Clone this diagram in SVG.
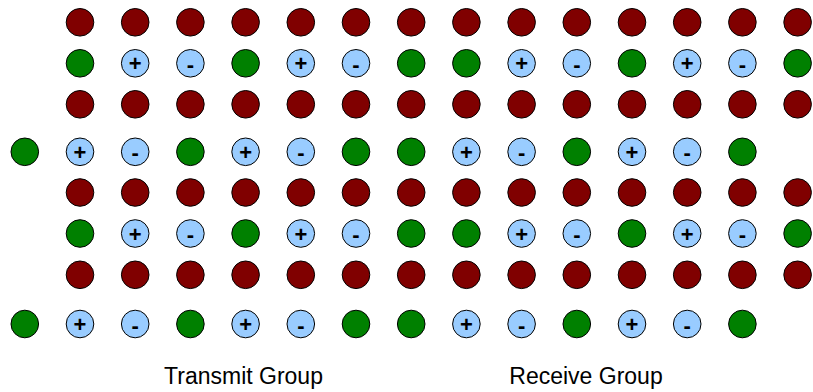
<svg xmlns="http://www.w3.org/2000/svg" width="813" height="392" viewBox="0 0 813 392">
<style>
circle{stroke:#000;stroke-width:1}
.r circle{fill:#800000}
.g circle{fill:#008000}
.p circle,.m circle{fill:#99ccff}
.p text,.m text{font-family:"Liberation Sans",Arial,sans-serif;font-size:22px;font-weight:bold;text-anchor:middle;fill:#000}
.lbl{font-family:"Liberation Sans",Arial,sans-serif;font-size:23px;fill:#000;text-anchor:middle}
</style>
<rect width="813" height="392" fill="#fff"/>
<g id="connectors"/>
<!-- Row 1 -->
<g id="n1-1" class="r" transform="translate(80,22.3)"><circle r="13.8"/></g>
<g id="n1-2" class="r" transform="translate(135.2,22.3)"><circle r="13.8"/></g>
<g id="n1-3" class="r" transform="translate(190.4,22.3)"><circle r="13.8"/></g>
<g id="n1-4" class="r" transform="translate(245.6,22.3)"><circle r="13.8"/></g>
<g id="n1-5" class="r" transform="translate(300.8,22.3)"><circle r="13.8"/></g>
<g id="n1-6" class="r" transform="translate(356,22.3)"><circle r="13.8"/></g>
<g id="n1-7" class="r" transform="translate(411.2,22.3)"><circle r="13.8"/></g>
<g id="n1-8" class="r" transform="translate(466.4,22.3)"><circle r="13.8"/></g>
<g id="n1-9" class="r" transform="translate(521.6,22.3)"><circle r="13.8"/></g>
<g id="n1-10" class="r" transform="translate(576.8,22.3)"><circle r="13.8"/></g>
<g id="n1-11" class="r" transform="translate(632,22.3)"><circle r="13.8"/></g>
<g id="n1-12" class="r" transform="translate(687.2,22.3)"><circle r="13.8"/></g>
<g id="n1-13" class="r" transform="translate(742.4,22.3)"><circle r="13.8"/></g>
<g id="n1-14" class="r" transform="translate(797.6,22.3)"><circle r="13.8"/></g>
<!-- Row 2 -->
<g id="n2-1" class="g" transform="translate(80,63.3)"><circle r="13.8"/></g>
<g id="n2-2" class="p" transform="translate(135.2,63.3)"><circle r="13.8"/><text y="8">+</text></g>
<g id="n2-3" class="m" transform="translate(190.4,63.3)"><circle r="13.8"/><text y="8.5">-</text></g>
<g id="n2-4" class="g" transform="translate(245.6,63.3)"><circle r="13.8"/></g>
<g id="n2-5" class="p" transform="translate(300.8,63.3)"><circle r="13.8"/><text y="8">+</text></g>
<g id="n2-6" class="m" transform="translate(356,63.3)"><circle r="13.8"/><text y="8.5">-</text></g>
<g id="n2-7" class="g" transform="translate(411.2,63.3)"><circle r="13.8"/></g>
<g id="n2-8" class="g" transform="translate(466.4,63.3)"><circle r="13.8"/></g>
<g id="n2-9" class="p" transform="translate(521.6,63.3)"><circle r="13.8"/><text y="8">+</text></g>
<g id="n2-10" class="m" transform="translate(576.8,63.3)"><circle r="13.8"/><text y="8.5">-</text></g>
<g id="n2-11" class="g" transform="translate(632,63.3)"><circle r="13.8"/></g>
<g id="n2-12" class="p" transform="translate(687.2,63.3)"><circle r="13.8"/><text y="8">+</text></g>
<g id="n2-13" class="m" transform="translate(742.4,63.3)"><circle r="13.8"/><text y="8.5">-</text></g>
<g id="n2-14" class="g" transform="translate(797.6,63.3)"><circle r="13.8"/></g>
<!-- Row 3 -->
<g id="n3-1" class="r" transform="translate(80,104.3)"><circle r="13.8"/></g>
<g id="n3-2" class="r" transform="translate(135.2,104.3)"><circle r="13.8"/></g>
<g id="n3-3" class="r" transform="translate(190.4,104.3)"><circle r="13.8"/></g>
<g id="n3-4" class="r" transform="translate(245.6,104.3)"><circle r="13.8"/></g>
<g id="n3-5" class="r" transform="translate(300.8,104.3)"><circle r="13.8"/></g>
<g id="n3-6" class="r" transform="translate(356,104.3)"><circle r="13.8"/></g>
<g id="n3-7" class="r" transform="translate(411.2,104.3)"><circle r="13.8"/></g>
<g id="n3-8" class="r" transform="translate(466.4,104.3)"><circle r="13.8"/></g>
<g id="n3-9" class="r" transform="translate(521.6,104.3)"><circle r="13.8"/></g>
<g id="n3-10" class="r" transform="translate(576.8,104.3)"><circle r="13.8"/></g>
<g id="n3-11" class="r" transform="translate(632,104.3)"><circle r="13.8"/></g>
<g id="n3-12" class="r" transform="translate(687.2,104.3)"><circle r="13.8"/></g>
<g id="n3-13" class="r" transform="translate(742.4,104.3)"><circle r="13.8"/></g>
<g id="n3-14" class="r" transform="translate(797.6,104.3)"><circle r="13.8"/></g>
<!-- Row 4 -->
<g id="n4-0" class="g" transform="translate(24.8,151.8)"><circle r="13.8"/></g>
<g id="n4-1" class="p" transform="translate(80,151.8)"><circle r="13.8"/><text y="8">+</text></g>
<g id="n4-2" class="m" transform="translate(135.2,151.8)"><circle r="13.8"/><text y="8.5">-</text></g>
<g id="n4-3" class="g" transform="translate(190.4,151.8)"><circle r="13.8"/></g>
<g id="n4-4" class="p" transform="translate(245.6,151.8)"><circle r="13.8"/><text y="8">+</text></g>
<g id="n4-5" class="m" transform="translate(300.8,151.8)"><circle r="13.8"/><text y="8.5">-</text></g>
<g id="n4-6" class="g" transform="translate(356,151.8)"><circle r="13.8"/></g>
<g id="n4-7" class="g" transform="translate(411.2,151.8)"><circle r="13.8"/></g>
<g id="n4-8" class="p" transform="translate(466.4,151.8)"><circle r="13.8"/><text y="8">+</text></g>
<g id="n4-9" class="m" transform="translate(521.6,151.8)"><circle r="13.8"/><text y="8.5">-</text></g>
<g id="n4-10" class="g" transform="translate(576.8,151.8)"><circle r="13.8"/></g>
<g id="n4-11" class="p" transform="translate(632,151.8)"><circle r="13.8"/><text y="8">+</text></g>
<g id="n4-12" class="m" transform="translate(687.2,151.8)"><circle r="13.8"/><text y="8.5">-</text></g>
<g id="n4-13" class="g" transform="translate(742.4,151.8)"><circle r="13.8"/></g>
<!-- Row 5 -->
<g id="n5-1" class="r" transform="translate(80,192.5)"><circle r="13.8"/></g>
<g id="n5-2" class="r" transform="translate(135.2,192.5)"><circle r="13.8"/></g>
<g id="n5-3" class="r" transform="translate(190.4,192.5)"><circle r="13.8"/></g>
<g id="n5-4" class="r" transform="translate(245.6,192.5)"><circle r="13.8"/></g>
<g id="n5-5" class="r" transform="translate(300.8,192.5)"><circle r="13.8"/></g>
<g id="n5-6" class="r" transform="translate(356,192.5)"><circle r="13.8"/></g>
<g id="n5-7" class="r" transform="translate(411.2,192.5)"><circle r="13.8"/></g>
<g id="n5-8" class="r" transform="translate(466.4,192.5)"><circle r="13.8"/></g>
<g id="n5-9" class="r" transform="translate(521.6,192.5)"><circle r="13.8"/></g>
<g id="n5-10" class="r" transform="translate(576.8,192.5)"><circle r="13.8"/></g>
<g id="n5-11" class="r" transform="translate(632,192.5)"><circle r="13.8"/></g>
<g id="n5-12" class="r" transform="translate(687.2,192.5)"><circle r="13.8"/></g>
<g id="n5-13" class="r" transform="translate(742.4,192.5)"><circle r="13.8"/></g>
<g id="n5-14" class="r" transform="translate(797.6,192.5)"><circle r="13.8"/></g>
<!-- Row 6 -->
<g id="n6-1" class="g" transform="translate(80,233.5)"><circle r="13.8"/></g>
<g id="n6-2" class="p" transform="translate(135.2,233.5)"><circle r="13.8"/><text y="8">+</text></g>
<g id="n6-3" class="m" transform="translate(190.4,233.5)"><circle r="13.8"/><text y="8.5">-</text></g>
<g id="n6-4" class="g" transform="translate(245.6,233.5)"><circle r="13.8"/></g>
<g id="n6-5" class="p" transform="translate(300.8,233.5)"><circle r="13.8"/><text y="8">+</text></g>
<g id="n6-6" class="m" transform="translate(356,233.5)"><circle r="13.8"/><text y="8.5">-</text></g>
<g id="n6-7" class="g" transform="translate(411.2,233.5)"><circle r="13.8"/></g>
<g id="n6-8" class="g" transform="translate(466.4,233.5)"><circle r="13.8"/></g>
<g id="n6-9" class="p" transform="translate(521.6,233.5)"><circle r="13.8"/><text y="8">+</text></g>
<g id="n6-10" class="m" transform="translate(576.8,233.5)"><circle r="13.8"/><text y="8.5">-</text></g>
<g id="n6-11" class="g" transform="translate(632,233.5)"><circle r="13.8"/></g>
<g id="n6-12" class="p" transform="translate(687.2,233.5)"><circle r="13.8"/><text y="8">+</text></g>
<g id="n6-13" class="m" transform="translate(742.4,233.5)"><circle r="13.8"/><text y="8.5">-</text></g>
<g id="n6-14" class="g" transform="translate(797.6,233.5)"><circle r="13.8"/></g>
<!-- Row 7 -->
<g id="n7-1" class="r" transform="translate(80,274.8)"><circle r="13.8"/></g>
<g id="n7-2" class="r" transform="translate(135.2,274.8)"><circle r="13.8"/></g>
<g id="n7-3" class="r" transform="translate(190.4,274.8)"><circle r="13.8"/></g>
<g id="n7-4" class="r" transform="translate(245.6,274.8)"><circle r="13.8"/></g>
<g id="n7-5" class="r" transform="translate(300.8,274.8)"><circle r="13.8"/></g>
<g id="n7-6" class="r" transform="translate(356,274.8)"><circle r="13.8"/></g>
<g id="n7-7" class="r" transform="translate(411.2,274.8)"><circle r="13.8"/></g>
<g id="n7-8" class="r" transform="translate(466.4,274.8)"><circle r="13.8"/></g>
<g id="n7-9" class="r" transform="translate(521.6,274.8)"><circle r="13.8"/></g>
<g id="n7-10" class="r" transform="translate(576.8,274.8)"><circle r="13.8"/></g>
<g id="n7-11" class="r" transform="translate(632,274.8)"><circle r="13.8"/></g>
<g id="n7-12" class="r" transform="translate(687.2,274.8)"><circle r="13.8"/></g>
<g id="n7-13" class="r" transform="translate(742.4,274.8)"><circle r="13.8"/></g>
<g id="n7-14" class="r" transform="translate(797.6,274.8)"><circle r="13.8"/></g>
<!-- Row 8 -->
<g id="n8-0" class="g" transform="translate(24.8,324)"><circle r="13.8"/></g>
<g id="n8-1" class="p" transform="translate(80,324)"><circle r="13.8"/><text y="8">+</text></g>
<g id="n8-2" class="m" transform="translate(135.2,324)"><circle r="13.8"/><text y="8.5">-</text></g>
<g id="n8-3" class="g" transform="translate(190.4,324)"><circle r="13.8"/></g>
<g id="n8-4" class="p" transform="translate(245.6,324)"><circle r="13.8"/><text y="8">+</text></g>
<g id="n8-5" class="m" transform="translate(300.8,324)"><circle r="13.8"/><text y="8.5">-</text></g>
<g id="n8-6" class="g" transform="translate(356,324)"><circle r="13.8"/></g>
<g id="n8-7" class="g" transform="translate(411.2,324)"><circle r="13.8"/></g>
<g id="n8-8" class="p" transform="translate(466.4,324)"><circle r="13.8"/><text y="8">+</text></g>
<g id="n8-9" class="m" transform="translate(521.6,324)"><circle r="13.8"/><text y="8.5">-</text></g>
<g id="n8-10" class="g" transform="translate(576.8,324)"><circle r="13.8"/></g>
<g id="n8-11" class="p" transform="translate(632,324)"><circle r="13.8"/><text y="8">+</text></g>
<g id="n8-12" class="m" transform="translate(687.2,324)"><circle r="13.8"/><text y="8.5">-</text></g>
<g id="n8-13" class="g" transform="translate(742.4,324)"><circle r="13.8"/></g>
<!-- Labels -->
<g id="label-transmit"><text class="lbl" x="243.5" y="384">Transmit Group</text></g>
<g id="label-receive"><text class="lbl" x="586" y="384">Receive Group</text></g>
</svg>
